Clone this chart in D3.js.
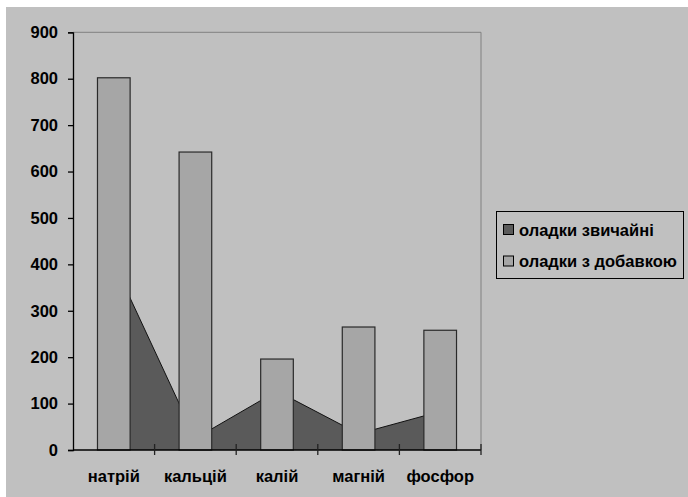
<!DOCTYPE html>
<html>
<head>
<meta charset="utf-8">
<script src="https://cdn.jsdelivr.net/npm/d3@7/dist/d3.min.js"></script>
<style>
  html, body { margin: 0; padding: 0; background: #ffffff; }
  svg { display: block; }
  text { font-family: "Liberation Sans", Arial, sans-serif; fill: #000; font-weight: bold; }
</style>
</head>
<body>
<svg id="chart" width="688" height="497"></svg>
<script>
// Mineral content of pancakes (mg per 100 g)
const categories = ["натрій", "кальцій", "калій", "магній", "фосфор"];
const seriesNames = ["оладки звичайні", "оладки з добавкою"];
const plainValues = [403, 25, 127, 35, 83];
const enrichedValues = [802, 642, 196, 265, 258];
const yTicks = [0, 100, 200, 300, 400, 500, 600, 700, 800, 900];

const svg = d3.select("#chart");
const W = 688, H = 497;
const FONT = "16.5px";

// chart background panel
svg.append("rect")
  .attr("x", 6).attr("y", 7)
  .attr("width", W - 6).attr("height", H - 7)
  .attr("fill", "#c0c0c0");

const plot = { left: 73, top: 32.3, right: 481, bottom: 450 };

const x = d3.scaleBand()
  .domain(categories)
  .range([plot.left, plot.right])
  .paddingInner(0).paddingOuter(0);

const y = d3.scaleLinear()
  .domain([0, 900])
  .range([plot.bottom, plot.top]);

const g = svg.append("g");

// plot-area frame (top and right edges)
g.append("path")
  .attr("d", `M${plot.left},${plot.top}H${plot.right}V${plot.bottom}`)
  .attr("fill", "none")
  .attr("stroke", "#808080")
  .attr("stroke-width", 1);

// area series through category centres
const cx = d => x(d) + x.bandwidth() / 2;
const area = d3.area()
  .x((d, i) => cx(categories[i]))
  .y0(y(0))
  .y1(d => y(d));
const line = d3.line()
  .x((d, i) => cx(categories[i]))
  .y(d => y(d));

g.append("path")
  .datum(plainValues)
  .attr("d", area)
  .attr("fill", "#5a5a5a");
g.append("path")
  .datum(plainValues)
  .attr("d", line)
  .attr("fill", "none")
  .attr("stroke", "#111")
  .attr("stroke-width", 1);

// column series
const barW = x.bandwidth() / 2.5;
g.selectAll("rect.bar")
  .data(enrichedValues)
  .join("rect")
  .attr("class", "bar")
  .attr("x", (d, i) => cx(categories[i]) - barW / 2)
  .attr("y", d => y(d))
  .attr("width", barW)
  .attr("height", d => y(0) - y(d))
  .attr("fill", "#a6a6a6")
  .attr("stroke", "#2a2a2a")
  .attr("stroke-width", 1.2);

// y axis
const yAxis = d3.axisLeft(y)
  .tickValues(yTicks)
  .tickSize(5)
  .tickPadding(10)
  .tickFormat(d3.format("d"));
const yg = g.append("g")
  .attr("transform", `translate(${plot.left},0)`)
  .call(yAxis);
yg.select(".domain").attr("stroke", "#000").attr("stroke-width", 1.3);
yg.selectAll(".tick line").attr("stroke", "#000").attr("stroke-width", 1.3);
yg.selectAll(".tick text")
  .attr("font-size", FONT)
  .attr("font-weight", "bold")
  .attr("font-family", "'Liberation Sans', Arial, sans-serif")
  .attr("fill", "#000");

// x axis: ticks at category boundaries crossing the axis line
const xg = g.append("g");
xg.append("line")
  .attr("x1", plot.left).attr("x2", plot.right)
  .attr("y1", plot.bottom).attr("y2", plot.bottom)
  .attr("stroke", "#000").attr("stroke-width", 1.3);
const bounds = categories.map(c => x(c)).concat([x(categories[categories.length - 1]) + x.bandwidth()]);
xg.selectAll("line.xt")
  .data(bounds.slice(1))
  .join("line")
  .attr("class", "xt")
  .attr("x1", d => d).attr("x2", d => d)
  .attr("y1", plot.bottom - 6).attr("y2", plot.bottom + 5)
  .attr("stroke", "#222").attr("stroke-width", 1.3);
xg.selectAll("text.xl")
  .data(categories)
  .join("text")
  .attr("class", "xl")
  .attr("x", d => cx(d))
  .attr("y", 482)
  .attr("text-anchor", "middle")
  .attr("font-size", FONT)
  .text(d => d);

// legend
const lg = svg.append("g");
lg.append("rect")
  .attr("x", 496.5).attr("y", 211.5)
  .attr("width", 187).attr("height", 67)
  .attr("fill", "#c0c0c0")
  .attr("stroke", "#000").attr("stroke-width", 1);
const legendFills = ["#5a5a5a", "#a6a6a6"];
const rowY = [229.5, 261];
seriesNames.forEach((name, i) => {
  lg.append("rect")
    .attr("x", 503.5).attr("y", rowY[i] - 5)
    .attr("width", 10).attr("height", 10)
    .attr("fill", legendFills[i])
    .attr("stroke", "#000").attr("stroke-width", 1);
  lg.append("text")
    .attr("x", 519)
    .attr("y", rowY[i] + 6)
    .attr("font-size", FONT)
    .text(name);
});
</script>
</body>
</html>
